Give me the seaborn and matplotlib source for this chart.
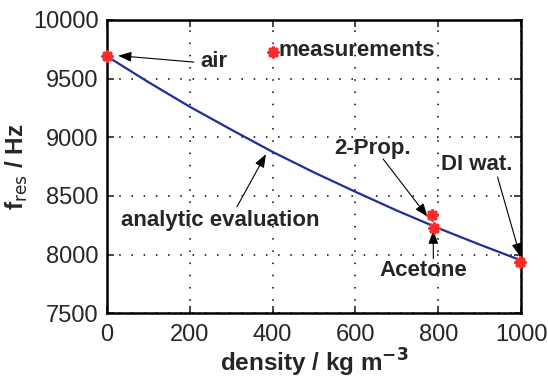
import matplotlib
matplotlib.use("Agg")
import matplotlib.pyplot as plt
import seaborn as sns
import pandas as pd

# analytic evaluation curve
curve_density = [0, 100, 200, 300, 400, 500, 600, 700, 800, 900, 1000]
curve_freq = [9690, 9470, 9260, 9065, 8875, 8700, 8535, 8375, 8225, 8085, 7950]

# measurements
meas_names = ["air", "2-Prop.", "Acetone", "DI wat."]
meas_density = [1.2, 785, 790, 998]
meas_freq = [9690, 8335, 8230, 7940]

x_ticks = [0, 200, 400, 600, 800, 1000]
y_ticks = [7500, 8000, 8500, 9000, 9500, 10000]

sns.set_style("ticks")
plt.rcParams['font.family'] = ['Liberation Sans', 'DejaVu Sans']

fig = plt.figure(figsize=(5.48, 3.82), dpi=100)
ax = fig.add_axes([0.195, 0.18, 0.756, 0.768])

df_curve = pd.DataFrame({"density": curve_density, "freq": curve_freq})
df_meas = pd.DataFrame({"density": meas_density, "freq": meas_freq, "name": meas_names})

sns.lineplot(data=df_curve, x="density", y="freq", ax=ax, color="#1f2d9c", lw=1.6)
mk = (8, 2, 0)
red = "#ff2a2a"
ax.scatter(df_meas["density"], df_meas["freq"], marker=mk, s=40, color=red,
           linewidths=2.6, zorder=5, clip_on=False)

# legend-like entry
ax.scatter([400], [9730], marker=mk, s=40, color=red, linewidths=2.6, zorder=5)
TF = 16
ax.text(415, 9740, "measurements", fontsize=TF, fontweight="bold", va="center", ha="left")

ax.set_xlim(0, 1000)
ax.set_ylim(7500, 10000)
ax.set_xticks(x_ticks)
ax.set_yticks(y_ticks)
ax.tick_params(axis="both", direction="in", labelsize=17, top=True, right=True,
               length=5, width=1.2, pad=6)
ax.tick_params(axis="x", pad=8)
ax.grid(True, linestyle=(0, (1, 7)), color="black", lw=1.1)
for s in ax.spines.values():
    s.set_linewidth(1.8)
    s.set_color("black")

ax.set_xlabel("density / kg m$^{\\mathbf{-3}}$", fontsize=17.5, fontweight="bold", labelpad=0)
ax.set_ylabel("f$_{\\mathrm{res}}$ / Hz", fontsize=17.5, fontweight="bold", labelpad=2)

arrow = dict(arrowstyle="-|>,head_length=0.8,head_width=0.3", color="black", lw=0.8,
             shrinkA=0, shrinkB=0)
txt = dict(fontsize=TF, fontweight="bold", ha="center", va="center")

ax.text(258, 9644, "air", **txt)
ax.annotate("", xy=(27, 9695), xytext=(210, 9640), arrowprops=arrow)
ax.text(642, 8905, "2-Prop.", **txt)
ax.annotate("", xy=(774, 8322), xytext=(667, 8814), arrowprops=arrow)
ax.text(892, 8771, "DI wat.", **txt)
ax.annotate("", xy=(998, 7983), xytext=(943, 8661), arrowprops=arrow)
ax.text(764, 7864, "Acetone", **txt)
ax.annotate("", xy=(788, 8205), xytext=(788, 7966), arrowprops=arrow)
ax.text(273, 8288, "analytic evaluation", **txt)
ax.annotate("", xy=(384, 8856), xytext=(314, 8407), arrowprops=arrow)

fig.savefig("out.png", dpi=100)
